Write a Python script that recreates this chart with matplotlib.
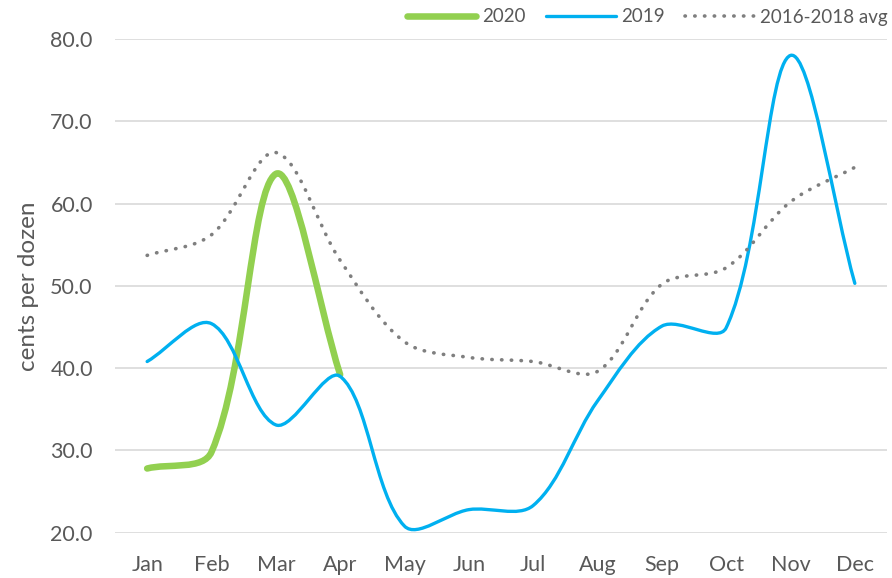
import matplotlib
matplotlib.use("Agg")

import numpy as np
import matplotlib.pyplot as plt
from matplotlib.path import Path
from matplotlib.patches import PathPatch
from matplotlib.lines import Line2D

months = ["Jan", "Feb", "Mar", "Apr", "May", "Jun",
          "Jul", "Aug", "Sep", "Oct", "Nov", "Dec"]
y2020 = [27.8, 29.8, 63.6, 39.2]
y2019 = [40.8, 45.4, 33.1, 39.0, 20.8, 22.8, 23.3, 36.0, 45.1, 44.9, 78.0, 50.3]
avg_16_18 = [53.7, 56.2, 66.2, 53.1, 43.2, 41.3, 40.8, 39.6, 50.2, 52.2, 60.2, 64.4]
series_names = ["2020", "2019", "2016-2018 avg"]

GREEN = "#92D050"
BLUE = "#00B0F0"
GREY = "#7F7F7F"
TEXT = "#595959"

plt.rcParams["font.family"] = ["Lato", "DejaVu Sans"]

# rough pixel scale of the plot, used to weight the smoothing like Excel does
SX, SY = 64.3, 8.23


def smooth_path(vals):
    """Excel-style smoothed line as a cubic Bezier path through the points."""
    y = np.asarray(vals, float)
    P = np.column_stack([np.arange(len(y)) * SX, y * SY])
    n = len(P)
    c_in = P.copy()
    c_out = P.copy()
    for i in range(n):
        prev = P[i - 1] if i > 0 else P[i]
        nxt = P[i + 1] if i < n - 1 else P[i]
        d1 = np.hypot(*(P[i] - prev))
        d2 = np.hypot(*(nxt - P[i]))
        s = d1 + d2 if d1 + d2 > 0 else 1.0
        T = nxt - prev
        c_in[i] = P[i] - T * (d1 / s) / 3
        c_out[i] = P[i] + T * (d2 / s) / 3
    verts = [P[0]]
    codes = [Path.MOVETO]
    for i in range(n - 1):
        verts += [c_out[i], c_in[i + 1], P[i + 1]]
        codes += [Path.CURVE4] * 3
    verts = np.array(verts) / [SX, SY]
    return Path(verts, codes)


fig = plt.figure(figsize=(8.92, 5.78), dpi=100)
ax = fig.add_axes([0.1289, 0.0784, 0.8655, 0.8542])

styles = [
    dict(color=GREEN, lw=4.7, ls="-"),
    dict(color=BLUE, lw=2.4, ls="-"),
    dict(color=GREY, lw=2.6, ls=(0, (0.1, 2.6))),
]
handles = []
for vals, st, name in zip([y2020, y2019, avg_16_18], styles, series_names):
    patch = PathPatch(smooth_path(vals), facecolor="none", edgecolor=st["color"],
                      lw=st["lw"], ls=st["ls"], capstyle="round", joinstyle="round")
    ax.add_patch(patch)
    handles.append(Line2D([], [], color=st["color"], lw=st["lw"], ls=st["ls"],
                          solid_capstyle="round", dash_capstyle="round", label=name))

ax.set_xlim(-0.5, 11.5)
ax.set_ylim(20, 80)
ax.set_xticks(range(12))
ax.set_xticklabels(months)
ax.set_yticks(np.arange(20, 81, 10))
ax.set_yticklabels([f"{v:.1f}" for v in np.arange(20, 81, 10)])
ax.grid(axis="y", color="#D9D9D9", lw=1.2)
ax.set_axisbelow(True)
for sp in ax.spines.values():
    sp.set_visible(False)
ax.tick_params(length=0, labelsize=15.5, colors=TEXT)
ax.tick_params(axis="x", pad=16)
ax.tick_params(axis="y", pad=16)
ax.set_ylabel("cents per dozen", fontsize=17.5, color=TEXT, labelpad=8)

fig.legend(handles=handles, loc="center right", bbox_to_anchor=(888 / 892, 1 - 17 / 578),
           ncol=3, frameon=False, fontsize=13.5, labelcolor=TEXT, handlelength=3.7,
           handletextpad=0.3, columnspacing=1.1, borderpad=0, borderaxespad=0)

fig.savefig("out.png", dpi=100)
